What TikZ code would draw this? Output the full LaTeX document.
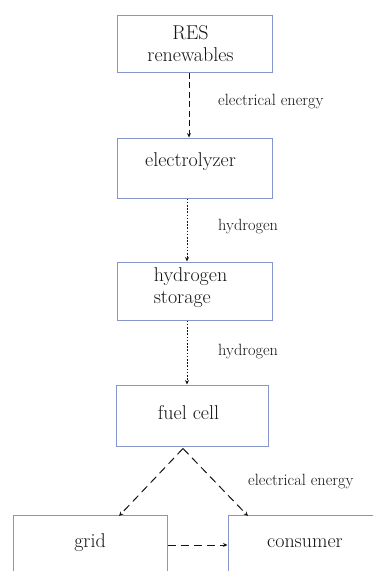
\documentclass[tikz,border=0pt]{standalone}
\usetikzlibrary{arrows.meta}
\definecolor{boxblue}{RGB}{135,150,202}
\definecolor{ink}{RGB}{20,20,20}
\begin{document}
\begin{tikzpicture}[x=1pt,y=-1pt,
  box/.style={draw=boxblue,line width=1pt,inner sep=0pt},
  boxtext/.style={text=ink,font=\fontsize{20}{22}\selectfont,inner sep=0pt},
  flowlabel/.style={text=ink,font=\fontsize{16.3}{18}\selectfont,inner sep=0pt,anchor=west},
  tip/.style={-{Stealth[length=4.5pt,width=4pt]}},
  dashlink/.style={tip,draw=ink,line width=1pt,dash pattern=on 6pt off 3.5pt},
  dotlink/.style={tip,draw=ink,line width=1pt,dash pattern=on 1.6pt off 1.6pt},
  longdash/.style={tip,draw=ink,line width=1pt,dash pattern=on 8pt off 5pt}]
\useasboundingbox (0,0) rectangle (373,571);
\clip (0,0) rectangle (373,571);
\fill[white] (0,0) rectangle (373,571);
% boxes
\node[box,minimum width=155pt,minimum height=57pt] (res) at (194.5,43.5) {};
\node[box,minimum width=155pt,minimum height=60pt] (elec) at (194.5,168) {};
\node[box,minimum width=155pt,minimum height=58pt] (stor) at (194.5,291) {};
\node[box,minimum width=152pt,minimum height=61pt] (fuel) at (192,415.5) {};
\node[box,minimum width=154pt,minimum height=60pt] (grid) at (90,545) {};
\node[box,minimum width=154pt,minimum height=60pt] (cons) at (305,545) {};
% box texts
\node[boxtext,align=center] (resT) at (190.5,44) {RES\\renewables};
\node[boxtext] (elecT) at (190.5,162) {electrolyzer};
\node[boxtext,align=left] (storT) at (190.5,288) {hydrogen\\storage};
\node[boxtext] (fuelT) at (188.5,413) {fuel cell};
\node[boxtext] (gridT) at (90,543) {grid};
\node[boxtext] (consT) at (305,543) {consumer};
% connector points
\coordinate (a1) at ([xshift=-5.5pt]res.south);
\coordinate (a2) at ([xshift=-5.5pt]elec.north);
\coordinate (b1) at ([xshift=-7.5pt]elec.south);
\coordinate (b2) at ([xshift=-7.5pt]stor.north);
\coordinate (c1) at ([xshift=-7.5pt]stor.south);
\coordinate (c2) at ([xshift=-5pt]fuel.north);
\coordinate (f0) at ([xshift=-9pt,yshift=-2pt]fuel.south);
\coordinate (g1) at ([xshift=29pt,yshift=-1.5pt]grid.north);
\coordinate (k1) at ([xshift=-57pt,yshift=-1.5pt]cons.north);
% connectors
\draw[dashlink] (a1) -- (a2);
\draw[dotlink] (b1) -- (b2);
\draw[dotlink] (c1) -- (c2);
\draw[longdash] (f0) -- (g1);
\draw[longdash] (f0) -- (k1);
\draw[longdash] (grid.east) -- (cons.west);
% labels
\node[flowlabel] (l1) at (218,102) {electrical energy};
\node[flowlabel] (l2) at (218,227) {hydrogen};
\node[flowlabel] (l3) at (218,352) {hydrogen};
\node[flowlabel] (l4) at (248,482) {electrical energy};
\end{tikzpicture}
\end{document}
